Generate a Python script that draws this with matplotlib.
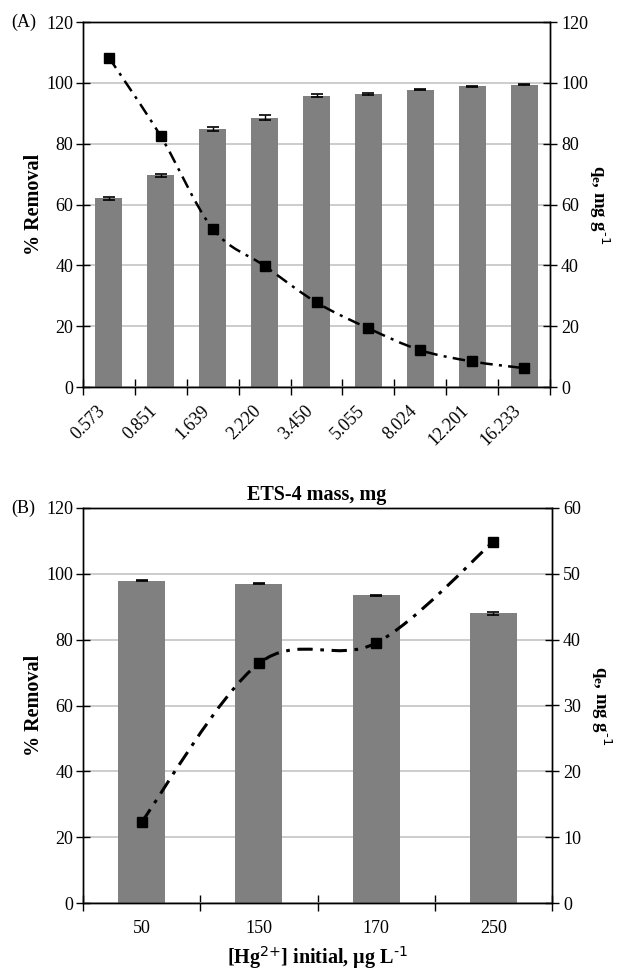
import numpy as np
import matplotlib
matplotlib.use("Agg")
import matplotlib.pyplot as plt
from matplotlib.path import Path
from matplotlib.patches import PathPatch
from matplotlib.transforms import ScaledTranslation

plt.rcParams["font.family"] = ["Liberation Serif", "DejaVu Serif"]
plt.rcParams["mathtext.default"] = "regular"

# panel A: ETS-4 mass series
mass_labels = ["0.573", "0.851", "1.639", "2.220", "3.450", "5.055", "8.024", "12.201", "16.233"]
removal_a = [62.0, 69.6, 84.9, 88.6, 95.8, 96.3, 97.8, 98.8, 99.4]
removal_a_err = [0.5, 0.4, 0.7, 0.7, 0.4, 0.3, 0.2, 0.2, 0.1]
qe_a = [108.3, 82.4, 52.0, 39.8, 27.8, 19.3, 12.1, 8.4, 6.2]

# panel B: initial Hg2+ concentration series
conc_labels = ["50", "150", "170", "250"]
removal_b = [97.9, 97.0, 93.5, 88.0]
removal_b_err = [0.1, 0.1, 0.1, 0.5]
qe_b = [12.3, 36.4, 39.5, 54.9]

BAR = "#808080"
GRID = "#c4c4c4"
FS = 13
LFS = 14.5


def smooth_path(xs, ys):
    # excel style smoothed line: cubic bezier through every point
    pts = np.column_stack([xs, ys]).astype(float)
    ext = np.vstack([pts[0], pts, pts[-1]])
    verts = [pts[0]]
    codes = [Path.MOVETO]
    for i in range(len(pts) - 1):
        p0, p1, p2, p3 = ext[i], ext[i + 1], ext[i + 2], ext[i + 3]
        verts += [p1 + (p2 - p0) / 6, p2 - (p3 - p1) / 6, p2]
        codes += [Path.CURVE4] * 3
    return Path(verts, codes)


def panel(fig, rect, labels, removal, err, qe, bar_w, qmax, qstep,
          lw, dashes, msize, tag, xlabel, rotate, xlab_y):
    ax = fig.add_axes(rect)
    x = np.arange(len(labels))
    ax.set_axisbelow(True)
    ax.bar(x, removal, width=bar_w, color=BAR, zorder=2)
    ax.errorbar(x, removal, yerr=err, fmt="none", ecolor="black",
                elinewidth=1, capsize=4, capthick=1.2, zorder=3)
    ax.set_xlim(-0.5, len(labels) - 0.5)
    ax.set_ylim(0, 120)
    ax.set_yticks(np.arange(0, 121, 20))
    ax.yaxis.grid(True, color=GRID, linewidth=1.2)
    ax.set_xticks(x)
    ax.set_xticks(np.arange(-0.5, len(labels), 1.0), minor=True)
    ax.tick_params(axis="x", which="major", length=0, labelsize=FS, pad=12)
    ax.tick_params(axis="x", which="minor", direction="inout", length=11, width=1)
    ax.tick_params(axis="y", direction="inout", length=10, width=1, labelsize=FS, pad=2)
    if rotate:
        off = ScaledTranslation(-13 / 100, 0, fig.dpi_scale_trans)
        ax.set_xticklabels(labels, rotation=45, ha="right")
        for t in ax.get_xticklabels():
            t.set_transform(t.get_transform() + off)
        ax.tick_params(axis="x", which="major", pad=11)
    else:
        ax.set_xticklabels(labels)
    ax.set_ylabel("% Removal", fontsize=LFS, fontweight="bold")
    ax.yaxis.set_label_coords(-0.105, 0.5)
    ax.yaxis.label.set_va("center")
    ax.set_xlabel(xlabel, fontsize=LFS, fontweight="bold")
    ax.xaxis.set_label_coords(0.5, xlab_y)
    ax.xaxis.label.set_va("center")
    for s in ax.spines.values():
        s.set_linewidth(1)

    ax2 = ax.twinx()
    ax2.set_ylim(0, qmax)
    ax2.set_yticks(np.arange(0, qmax + 1, qstep))
    ax2.tick_params(axis="y", direction="inout", length=10, width=1, labelsize=FS, pad=3)
    patch = PathPatch(smooth_path(x, qe), fill=False, edgecolor="black",
                      linewidth=lw, linestyle=(0, dashes), capstyle="butt")
    ax2.add_patch(patch)
    ax2.plot(x, qe, linestyle="none", marker="s", markersize=msize,
             color="black")
    ax2.set_ylabel(r"q$_{e}$, mg g$^{\text{-1}}$", fontsize=FS + 0.5,
                   fontweight="bold", rotation=-90)
    ax2.yaxis.set_label_coords(1.105, 0.5)
    ax2.yaxis.label.set_va("center")
    for s in ax2.spines.values():
        s.set_linewidth(1)

    y_top = rect[1] + rect[3]
    fig.text(11 / 627, y_top, tag, fontsize=FS, va="center", ha="left")
    return ax, ax2


fig = plt.figure(figsize=(6.27, 9.71), dpi=100)

panel(fig, [83 / 627, 1 - 387 / 971, 467 / 627, 365 / 971],
      mass_labels, removal_a, removal_a_err, qe_a, 0.52, 120, 20,
      1.8, (5, 2.5, 1.2, 2.5), 7.5, "(A)", "ETS-4 mass, mg", True, -0.296)

panel(fig, [83 / 627, 1 - 903 / 971, 469 / 627, 395 / 971],
      conc_labels, removal_b, removal_b_err, qe_b, 0.4, 60, 10,
      2.2, (5, 2.5, 1.2, 2.5), 7, "(B)",
      r"[Hg$^{\text{2+}}$] initial, μg L$^{\text{-1}}$", False, -0.139)

fig.savefig("out.png", dpi=100)
